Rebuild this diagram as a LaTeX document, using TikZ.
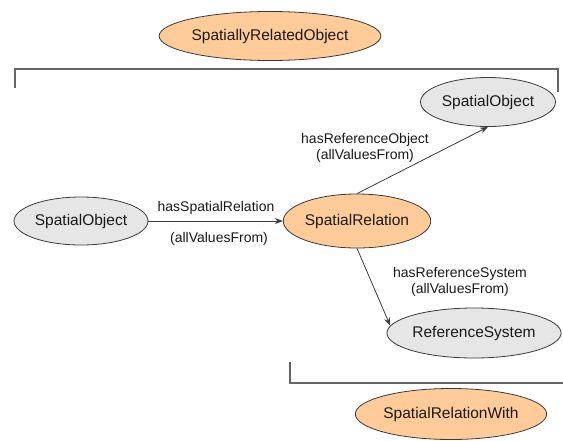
\documentclass[tikz,border=0pt]{standalone}
\usepackage{fontspec}
\setmainfont{Liberation Sans}
\usetikzlibrary{shapes.geometric,arrows.meta}
\definecolor{orangefill}{HTML}{FFCC99}
\definecolor{grayfill}{HTML}{E6E6E6}
\definecolor{edgecol}{HTML}{3A3A3A}
\definecolor{bracketcol}{HTML}{666666}
\tikzset{
  cls/.style={ellipse, draw=edgecol, line width=0.8pt, inner sep=0pt,
    font=\fontsize{15.5}{18}\selectfont, text=black!90},
  orangecls/.style={cls, fill=orangefill},
  graycls/.style={cls, fill=grayfill},
  prop/.style={draw=edgecol, line width=0.8pt, -{Stealth[length=8pt,width=6pt]}},
  lbl/.style={font=\fontsize{14}{16}\selectfont, text=black!90, align=center, inner sep=0pt},
  bracket/.style={draw=bracketcol, line width=1.4pt}
}
\begin{document}
\begin{tikzpicture}[x=1pt,y=-1pt]
\useasboundingbox (0,0) rectangle (563,440);
% classes
\node[orangecls, minimum width=194pt, minimum height=49pt] (sro) at (270,36) {SpatiallyRelatedObject};
\node[graycls, minimum width=135pt, minimum height=49pt] (so2) at (488,102) {SpatialObject};
\node[graycls, minimum width=134pt, minimum height=48pt] (so1) at (81,221) {SpatialObject};
\node[orangecls, minimum width=133pt, minimum height=54pt] (sr) at (357,221) {SpatialRelation};
\node[graycls, minimum width=141pt, minimum height=50pt] (rs) at (474,333) {ReferenceSystem};
\node[orangecls, minimum width=151pt, minimum height=51pt] (srw) at (451,414) {SpatialRelationWith};
% brackets
\coordinate (tb1) at (15,88);
\coordinate (tb2) at (15,69);
\coordinate (tb3) at (558,69);
\coordinate (tb4) at (558,92);
\draw[bracket] (tb1) -- (tb2) -- (tb3) -- (tb4);
\coordinate (bb1) at (290,362);
\coordinate (bb2) at (290,383);
\coordinate (bb3) at (563,383);
\draw[bracket] (bb1) -- (bb2) -- (bb3);
% properties
\draw[prop] (so1.east) -- (sr.west);
\draw[prop] (sr.north) -- (so2.south);
\draw[prop] (sr.south) -- (rs.175);
% labels
\node[lbl] (l1a) at (216,208) {hasSpatialRelation};
\node[lbl] (l1b) at (219,239) {(allValuesFrom)};
\node[lbl] (l2) at (365,148) {hasReferenceObject\\(allValuesFrom)};
\node[lbl] (l3) at (460,282) {hasReferenceSystem\\(allValuesFrom)};
\end{tikzpicture}
\end{document}
